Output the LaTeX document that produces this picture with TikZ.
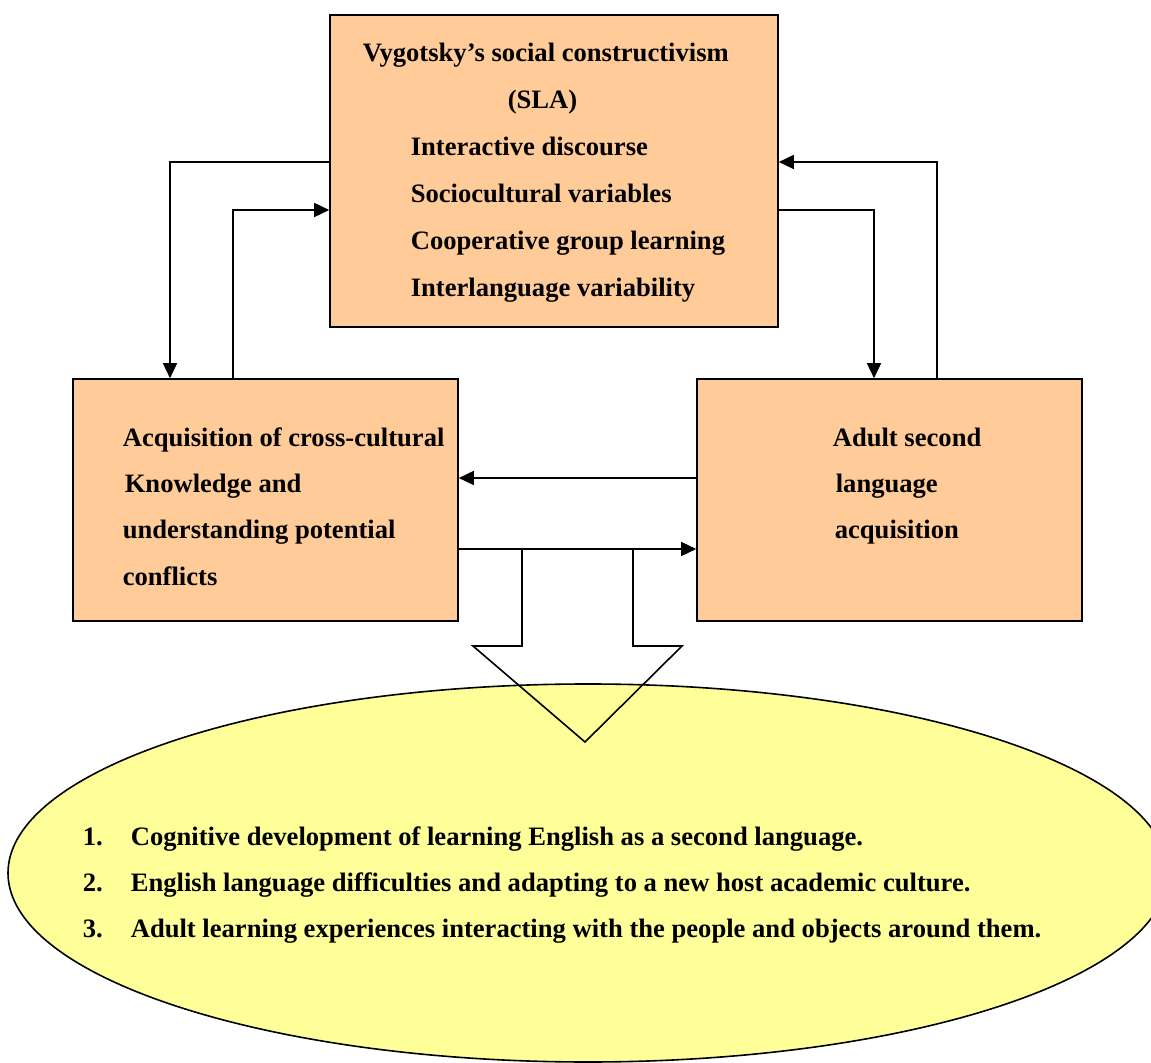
\documentclass[tikz,border=0pt]{standalone}
\usepackage{fontspec}
\setmainfont{Liberation Serif}
\usepackage{tikz}
\usetikzlibrary{positioning, arrows.meta, shapes.geometric}
\definecolor{peach}{HTML}{FFCC99}
\definecolor{paleyellow}{HTML}{FFFF99}

\begin{document}
\begin{tikzpicture}[x=0.5pt, y=-0.5pt, line width=0.8pt,
    box/.style={rectangle, draw=black, fill=peach, inner sep=0pt},
    txt/.style={anchor=base west, inner sep=0pt, font=\fontsize{13.3}{16}\selectfont\bfseries},
    link/.style={-{Triangle[length=7.5pt, width=7pt]}}]
  \useasboundingbox (0,0) rectangle (1151,1063);
  \clip (0,0) rectangle (1151,1063);

  % boxes
  \node[box, minimum width=224pt, minimum height=156pt] (sla) at (554,171) {};
  \node[box, minimum width=192.5pt, minimum height=121pt] (cross) at (265.5,500) {};
  \node[box, minimum width=192.5pt, minimum height=121pt] (adult) at (889.5,500) {};
  \node[ellipse, draw, fill=paleyellow, minimum width=580pt, minimum height=189pt, inner sep=0pt] (outcome) at (588,873) {};

  % bends of the connectors
  \coordinate (l1) at (170,162);
  \coordinate (l2) at (233,210);
  \coordinate (r1) at (874,210);
  \coordinate (r2) at (937,162);
  \coordinate (m1) at (0,478);
  \coordinate (m2) at (0,549);

  \draw[link] (sla.west |- l1) -| (cross.north -| l1);
  \draw[link] (cross.north -| l2) |- (sla.west |- l2);
  \draw[link] (sla.east |- r1) -| (adult.north -| r1);
  \draw[link] (adult.north -| r2) |- (sla.east |- r2);
  \draw[link] (adult.west |- m1) -- (cross.east |- m1);
  \draw[link] (cross.east |- m2) -- (adult.west |- m2);

  % big down arrow
  \draw (522,549) -- (522,646) -- (473,646) -- (585,742) -- (682,646) -- (633,646) -- (633,549);

  % texts
  \node[txt] (sla-1) at (362,62) {Vygotsky’s social constructivism};
  \node[txt] (sla-2) at (507,109) {(SLA)};
  \foreach \t [count=\i from 3] in {Interactive discourse, Sociocultural variables,
      Cooperative group learning, Interlanguage variability}
    \node[txt] (sla-\i) at (410,{62+47*(\i-1)}) {\t};

  \node[txt] (cross-1) at (122,447) {Acquisition of cross-cultural};
  \node[txt] (cross-2) at (124,493) {Knowledge and};
  \node[txt] (cross-3) at (122,539) {understanding potential};
  \node[txt] (cross-4) at (122,586) {conflicts};

  \node[txt] (adult-1) at (832,447) {Adult second};
  \node[txt] (adult-2) at (835,493) {language};
  \node[txt] (adult-3) at (834,539) {acquisition};

  \foreach \t [count=\i] in {Cognitive development of learning English as a second language.,
      English language difficulties and adapting to a new host academic culture.,
      Adult learning experiences interacting with the people and objects around them.}
  {
    \node[txt] (num-\i) at (82,{845+46*(\i-1)}) {\i.};
    \node[txt] (item-\i) at (130,{845+46*(\i-1)}) {\t};
  }
\end{tikzpicture}
\end{document}
